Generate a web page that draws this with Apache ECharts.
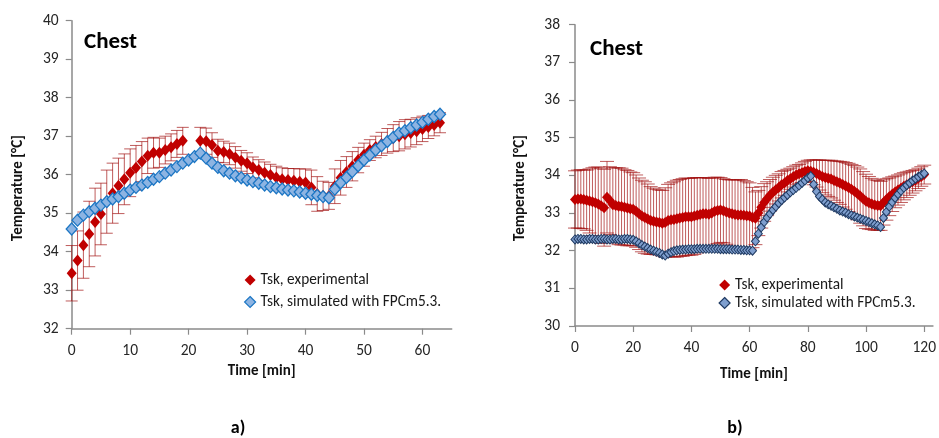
<!DOCTYPE html>
<html>
<head>
<meta charset="utf-8">
<script src="https://cdn.jsdelivr.net/npm/echarts@6/dist/echarts.min.js"></script>
<style>
  html, body { margin: 0; padding: 0; background: #fff; }
  #chart { width: 939px; height: 438px; }
</style>
</head>
<body>
<div id="chart"></div>
<script>
// Chest skin temperature: experimental mean ± SD vs. FPCm5.3 simulation, sampled every minute.

// ---- panel a) ----
const expA = [
  33.44, 33.77, 34.17, 34.46, 34.77, 34.98, 35.30, 35.52, 35.71, 35.88,
  36.05, 36.18, 36.34, 36.49, 36.57, 36.57, 36.64, 36.71, 36.80, 36.88,
  null, null, 36.88, 36.87, 36.77, 36.62, 36.59, 36.54, 36.45, 36.36,
  36.30, 36.19, 36.12, 36.05, 35.99, 35.93, 35.88, 35.86, 35.84, 35.82,
  35.80, 35.67, 35.50, 35.45, 35.45, 35.70, 35.92, 36.07, 36.22, 36.38,
  36.52, 36.64, 36.72, 36.80, 36.88, 36.95, 37.00, 37.05, 37.08, 37.13,
  37.19, 37.24, 37.29, 37.35
];
const sdA = [
  0.72, 0.77, 0.86, 0.85, 0.88, 0.80, 0.82, 0.78, 0.72, 0.66,
  0.62, 0.58, 0.52, 0.46, 0.40, 0.38, 0.36, 0.35, 0.35, 0.35,
  null, null, 0.35, 0.34, 0.32, 0.30, 0.28, 0.28, 0.28, 0.27,
  0.27, 0.27, 0.27, 0.28, 0.28, 0.29, 0.30, 0.30, 0.32, 0.33,
  0.35, 0.45, 0.45, 0.38, 0.35, 0.45, 0.45, 0.40, 0.38, 0.33,
  0.30, 0.27, 0.28, 0.30, 0.32, 0.35, 0.38, 0.38, 0.36, 0.35,
  0.33, 0.30, 0.28, 0.26
];
const simA = [
  34.59, 34.82, 34.95, 35.04, 35.13, 35.21, 35.30, 35.37, 35.43, 35.52,
  35.60, 35.67, 35.73, 35.80, 35.88, 35.95, 36.04, 36.12, 36.21, 36.30,
  36.38, 36.47, 36.56, 36.43, 36.30, 36.19, 36.10, 36.04, 35.97, 35.92,
  35.86, 35.82, 35.78, 35.73, 35.69, 35.66, 35.63, 35.60, 35.58, 35.55,
  35.52, 35.49, 35.46, 35.43, 35.40, 35.62, 35.79, 35.93, 36.08, 36.23,
  36.38, 36.51, 36.64, 36.75, 36.86, 36.97, 37.08, 37.14, 37.22, 37.29,
  37.36, 37.44, 37.51, 37.57
];
const xTicksA = [0, 10, 20, 30, 40, 50, 60];
const yTicksA = [32, 33, 34, 35, 36, 37, 38, 39, 40];

// ---- panel b) ----
const expB = [
  33.36, 33.37, 33.37, 33.36, 33.34, 33.32, 33.30, 33.27, 33.24, 33.19,
  33.14, 33.42, 33.33, 33.22, 33.20, 33.18, 33.17, 33.15, 33.13, 33.11,
  33.10, 33.05, 32.98, 32.92, 32.88, 32.84, 32.80, 32.78, 32.76, 32.75,
  32.73, 32.75, 32.80, 32.82, 32.83, 32.85, 32.87, 32.88, 32.90, 32.90,
  32.90, 32.92, 32.94, 32.96, 32.98, 32.98, 32.97, 33.00, 33.05, 33.07,
  33.08, 33.06, 33.03, 33.00, 32.98, 32.96, 32.95, 32.95, 32.94, 32.93,
  32.92, 32.88, 32.86, 33.00, 33.15, 33.28, 33.38, 33.47, 33.55, 33.62,
  33.68, 33.75, 33.80, 33.86, 33.91, 33.96, 34.01, 34.04, 34.07, 34.10,
  34.12, 34.11, 34.08, 34.05, 34.01, 33.97, 33.94, 33.92, 33.90, 33.86,
  33.83, 33.80, 33.76, 33.72, 33.68, 33.63, 33.58, 33.52, 33.45, 33.38,
  33.31, 33.27, 33.24, 33.21, 33.20, 33.19, 33.28, 33.36, 33.43, 33.50,
  33.56, 33.61, 33.66, 33.71, 33.75, 33.79, 33.83, 33.87, 33.92, 33.97,
  34.02
];
const sdB = [
  0.76, 0.77, 0.78, 0.78, 0.80, 0.85, 0.90, 0.95, 0.98, 1.00,
  1.02, 0.95, 0.90, 0.98, 1.00, 1.02, 1.02, 1.00, 1.00, 0.98,
  0.97, 0.96, 0.95, 0.95, 0.95, 0.93, 0.90, 0.88, 0.87, 0.86,
  0.87, 0.92, 0.96, 0.98, 1.00, 1.02, 1.02, 1.03, 1.03, 1.02,
  1.02, 1.02, 1.00, 0.98, 0.96, 0.95, 0.95, 0.93, 0.90, 0.88,
  0.86, 0.85, 0.86, 0.88, 0.90, 0.92, 0.93, 0.94, 0.92, 0.90,
  0.88, 0.80, 0.70, 0.60, 0.55, 0.50, 0.45, 0.42, 0.40, 0.38,
  0.36, 0.35, 0.33, 0.30, 0.28, 0.27, 0.26, 0.25, 0.26, 0.27,
  0.28, 0.30, 0.33, 0.36, 0.40, 0.43, 0.46, 0.48, 0.50, 0.52,
  0.55, 0.57, 0.60, 0.62, 0.64, 0.66, 0.68, 0.70, 0.72, 0.72,
  0.72, 0.70, 0.68, 0.67, 0.66, 0.65, 0.60, 0.55, 0.50, 0.46,
  0.42, 0.40, 0.38, 0.36, 0.34, 0.32, 0.30, 0.28, 0.27, 0.26,
  0.25
];
const simB = [
  32.30, 32.31, 32.31, 32.30, 32.30, 32.31, 32.31, 32.30, 32.30, 32.31,
  32.31, 32.30, 32.30, 32.31, 32.31, 32.30, 32.30, 32.31, 32.31, 32.30,
  32.29, 32.25, 32.20, 32.15, 32.11, 32.07, 32.03, 32.00, 31.97, 31.94,
  31.90, 31.87, 31.92, 31.96, 31.99, 32.01, 32.02, 32.03, 32.03, 32.04,
  32.04, 32.04, 32.05, 32.05, 32.05, 32.05, 32.05, 32.05, 32.05, 32.05,
  32.04, 32.04, 32.04, 32.04, 32.03, 32.03, 32.03, 32.02, 32.02, 32.01,
  32.01, 32.00, 32.25, 32.45, 32.62, 32.76, 32.88, 32.98, 33.08, 33.17,
  33.26, 33.34, 33.41, 33.48, 33.55, 33.61, 33.67, 33.73, 33.80, 33.86,
  33.93, 33.98, 33.76, 33.57, 33.44, 33.36, 33.28, 33.23, 33.19, 33.15,
  33.11, 33.07, 33.04, 33.01, 32.97, 32.94, 32.91, 32.88, 32.85, 32.82,
  32.79, 32.76, 32.73, 32.70, 32.67, 32.63, 32.87, 33.03, 33.17, 33.29,
  33.40, 33.50, 33.59, 33.67, 33.74, 33.80, 33.86, 33.91, 33.96, 34.01,
  34.05
];
const xTicksB = [0, 20, 40, 60, 80, 100, 120];
const yTicksB = [30, 31, 32, 33, 34, 35, 36, 37, 38];

const NAME_EXP = 'Tsk, experimental';
const NAME_SIM = 'Tsk, simulated with FPCm5.3.';
const SAMPLE_MIN = 1; // one reading per minute

const FONT = 'Carlito, Calibri, Lato, "Liberation Sans", sans-serif';
const RED = '#c00000';
const ERR = 'rgba(160, 15, 15, 0.68)';

// [minute, value] pairs, skipping gaps
function points(vals) {
  const out = [];
  vals.forEach((v, i) => { if (v != null) out.push([i * SAMPLE_MIN, v]); });
  return out;
}
function errPoints(vals, sds) {
  const out = [];
  vals.forEach((v, i) => { if (v != null && sds[i] != null) out.push([i * SAMPLE_MIN, v, sds[i]]); });
  return out;
}
// vertical ±SD whisker with horizontal caps
function errRenderer(capHalf) {
  return function (params, api) {
    const x = api.value(0), y = api.value(1), e = api.value(2);
    const hi = api.coord([x, y + e]);
    const lo = api.coord([x, y - e]);
    const style = { stroke: ERR, lineWidth: 1 };
    return {
      type: 'group',
      children: [
        { type: 'line', shape: { x1: hi[0], y1: hi[1], x2: lo[0], y2: lo[1] }, style },
        { type: 'line', shape: { x1: hi[0] - capHalf, y1: hi[1], x2: hi[0] + capHalf, y2: hi[1] }, style },
        { type: 'line', shape: { x1: lo[0] - capHalf, y1: lo[1], x2: lo[0] + capHalf, y2: lo[1] }, style }
      ]
    };
  };
}

const axisLine = { show: true, lineStyle: { color: '#8a8a8a', width: 1.5 } };
const axisTick = { show: true, inside: false, length: 6, lineStyle: { color: '#8a8a8a', width: 1.2 } };
const tickLabel = { color: '#262626', fontSize: 15.5, fontFamily: FONT };

function xAxis(gridIndex, ticks, max, nameGap) {
  return {
    type: 'value', gridIndex, min: 0, max,
    name: 'Time [min]', nameLocation: 'middle', nameGap,
    nameTextStyle: { fontFamily: FONT, fontWeight: 'bold', fontSize: 15, color: '#111' },
    axisLine, splitLine: { show: false },
    axisTick: Object.assign({ customValues: ticks }, axisTick),
    axisLabel: Object.assign({ customValues: ticks, margin: 14 }, tickLabel)
  };
}
function yAxis(gridIndex, ticks, margin) {
  return {
    type: 'value', gridIndex, min: ticks[0], max: ticks[ticks.length - 1], interval: 1,
    axisLine, splitLine: { show: false }, axisTick,
    axisLabel: Object.assign({ margin }, tickLabel)
  };
}

const chart = echarts.init(document.getElementById('chart'), null, { renderer: 'canvas' });

chart.setOption({
  animation: false,
  backgroundColor: '#fff',
  grid: [
    { left: 71.7, top: 20.7, width: 380, height: 308 },
    { left: 575, top: 24.7, width: 361, height: 301.3 }
  ],
  xAxis: [xAxis(0, xTicksA, 65, 34), xAxis(1, xTicksB, 123, 41)],
  yAxis: [yAxis(0, yTicksA, 13), yAxis(1, yTicksB, 15)],
  legend: [
    {
      left: 239, top: 266.5, orient: 'vertical', selectedMode: false,
      itemWidth: 11, itemHeight: 11, itemGap: 5,
      textStyle: { fontFamily: FONT, fontSize: 15.3, color: '#1a1a1a', lineHeight: 17 },
      data: [
        { name: NAME_EXP, icon: 'diamond', itemStyle: { color: RED, borderWidth: 0 } },
        { name: NAME_SIM, icon: 'diamond', itemStyle: { color: '#8db4e2', borderColor: '#1c76c4', borderWidth: 1.2 } }
      ]
    },
    {
      left: 713.5, top: 271.5, orient: 'vertical', selectedMode: false,
      itemWidth: 11, itemHeight: 11, itemGap: 1,
      textStyle: { fontFamily: FONT, fontSize: 15.3, color: '#1a1a1a', lineHeight: 17 },
      data: [
        { name: NAME_EXP, icon: 'diamond', itemStyle: { color: RED, borderWidth: 0 } },
        { name: NAME_SIM, icon: 'diamond', itemStyle: { color: '#7f9fcf', borderColor: '#1f3a62', borderWidth: 1.2 } }
      ]
    }
  ],
  graphic: [
    { type: 'text', x: 84, y: 42, style: { text: 'Chest', fontFamily: FONT, fontWeight: 'bold', fontSize: 23, fill: '#000', verticalAlign: 'middle' } },
    { type: 'text', x: 590, y: 49, style: { text: 'Chest', fontFamily: FONT, fontWeight: 'bold', fontSize: 23, fill: '#000', verticalAlign: 'middle' } },
    { type: 'text', x: 18, y: 188, rotation: Math.PI / 2, style: { text: 'Temperature [°C]', fontFamily: FONT, fontWeight: 'bold', fontSize: 15, fill: '#111', align: 'center', verticalAlign: 'middle' } },
    { type: 'text', x: 520, y: 188, rotation: Math.PI / 2, style: { text: 'Temperature [°C]', fontFamily: FONT, fontWeight: 'bold', fontSize: 15, fill: '#111', align: 'center', verticalAlign: 'middle' } },
    { type: 'text', x: 238, y: 428, style: { text: 'a)', fontFamily: FONT, fontWeight: 'bold', fontSize: 18, fill: '#000', align: 'center', verticalAlign: 'middle' } },
    { type: 'text', x: 735, y: 428, style: { text: 'b)', fontFamily: FONT, fontWeight: 'bold', fontSize: 18, fill: '#000', align: 'center', verticalAlign: 'middle' } }
  ],
  series: [
    {
      type: 'custom', name: 'errA', xAxisIndex: 0, yAxisIndex: 0, z: 1,
      renderItem: errRenderer(6), data: errPoints(expA, sdA), encode: { x: 0, y: 1 }, silent: true
    },
    {
      type: 'scatter', name: NAME_EXP, xAxisIndex: 0, yAxisIndex: 0, z: 2,
      symbol: 'diamond', symbolSize: [10, 12],
      itemStyle: { color: RED, opacity: 1 }, data: points(expA)
    },
    {
      type: 'scatter', name: NAME_SIM, xAxisIndex: 0, yAxisIndex: 0, z: 3,
      symbol: 'diamond', symbolSize: [11, 12],
      itemStyle: { color: '#8db4e2', borderColor: '#1c76c4', borderWidth: 1.3, opacity: 1 }, data: points(simA)
    },
    {
      type: 'custom', name: 'errB', xAxisIndex: 1, yAxisIndex: 1, z: 1,
      renderItem: errRenderer(7), data: errPoints(expB, sdB), encode: { x: 0, y: 1 }, silent: true
    },
    {
      type: 'scatter', name: NAME_EXP, xAxisIndex: 1, yAxisIndex: 1, z: 2,
      symbol: 'diamond', symbolSize: [10, 11],
      itemStyle: { color: RED, opacity: 1 }, data: points(expB)
    },
    {
      type: 'scatter', name: NAME_SIM, xAxisIndex: 1, yAxisIndex: 1, z: 3,
      symbol: 'diamond', symbolSize: [8, 9],
      itemStyle: { color: '#7f9fcf', borderColor: '#1f3a62', borderWidth: 1, opacity: 1 }, data: points(simB)
    }
  ]
});
</script>
</body>
</html>
